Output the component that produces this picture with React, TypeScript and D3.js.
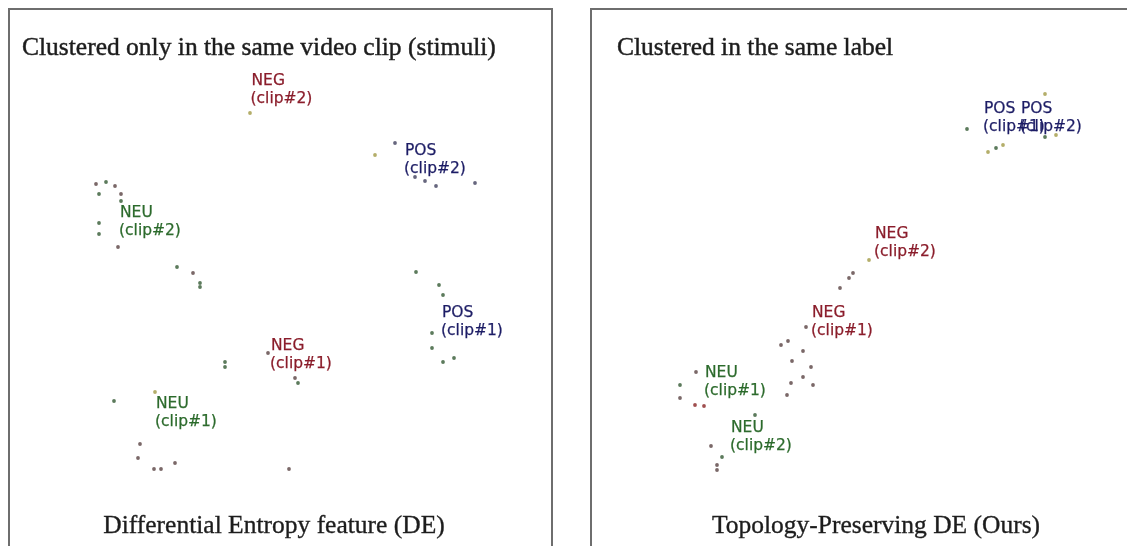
import * as d3 from "d3";
import React from "react";

type Tone = "neu" | "neg" | "pos" | "yel" | "red";
type Pt = [number, number, Tone];

// t-SNE style 2D embedding, left panel (raw DE features)
const dePoints: Pt[] = [
  [-6.1, 32.8, "yel"],
  [22.9, 26.8, "pos"], [18.9, 24.4, "yel"], [26.9, 20.0, "pos"], [28.9, 19.2, "pos"],
  [31.1, 18.2, "pos"], [38.9, 18.8, "pos"],
  [-36.9, 18.6, "neg"], [-34.9, 19.0, "neu"], [-33.1, 18.2, "neg"], [-36.3, 16.6, "neu"],
  [-31.9, 16.6, "neg"], [-31.9, 15.2, "neu"], [-36.3, 10.8, "neu"], [-36.3, 8.6, "neu"],
  [-32.5, 6.0, "neg"], [-20.7, 2.0, "neu"], [-17.5, 0.8, "neg"], [-16.1, -1.2, "neu"],
  [-16.1, -2.0, "neu"],
  [27.1, 1.0, "neu"], [31.7, -1.6, "neu"], [32.5, -3.6, "neu"], [30.3, -11.2, "neu"],
  [30.3, -14.2, "neu"], [32.5, -17.0, "neu"], [34.7, -16.2, "neu"],
  [-2.5, -15.2, "neg"], [-11.1, -17.0, "neu"], [-11.1, -18.0, "neu"], [2.9, -20.2, "neg"],
  [3.5, -21.2, "neu"], [1.7, -38.4, "neg"],
  [-25.1, -23.0, "yel"], [-33.3, -24.8, "neu"], [-28.1, -33.4, "neg"], [-28.5, -36.2, "neg"],
  [-25.3, -38.4, "neg"], [-23.9, -38.4, "neg"], [-21.1, -37.2, "neg"],
];

// right panel (topology-preserving DE)
const tpPoints: Pt[] = [
  [36.5, 36.6, "yel"], [20.9, 29.6, "neu"], [36.5, 28.0, "neu"], [38.7, 28.4, "yel"],
  [25.1, 25.0, "yel"], [26.7, 25.8, "neu"], [28.1, 26.4, "yel"],
  [1.3, 3.4, "yel"], [-1.9, 0.8, "neg"], [-2.7, -0.2, "neg"], [-4.5, -2.2, "neg"],
  [-11.3, -10.0, "neg"], [-16.3, -13.6, "neg"], [-14.9, -12.8, "neg"], [-11.9, -14.8, "neg"],
  [-14.1, -16.8, "neg"], [-10.3, -18.0, "neg"], [-11.9, -20.0, "neg"], [-9.9, -21.6, "neg"],
  [-14.3, -21.2, "neg"], [-15.1, -23.6, "neg"],
  [-33.3, -19.0, "neg"], [-36.5, -21.6, "neu"], [-36.5, -24.2, "neg"], [-33.5, -25.6, "red"],
  [-31.7, -25.8, "red"],
  [-21.5, -27.6, "neu"], [-30.3, -33.8, "neg"], [-28.1, -36.0, "neu"], [-29.1, -37.6, "neg"],
  [-29.1, -38.6, "neg"],
];

type Label = { emo: "NEG" | "POS" | "NEU"; clip: string; x: number; y: number };

const deLabels: Label[] = [
  { emo: "NEG", clip: "(clip#2)", x: -5.8, y: 38.4 },
  { emo: "POS", clip: "(clip#2)", x: 24.9, y: 24.4 },
  { emo: "NEU", clip: "(clip#2)", x: -32.1, y: 12.0 },
  { emo: "POS", clip: "(clip#1)", x: 32.3, y: -8.0 },
  { emo: "NEG", clip: "(clip#1)", x: -1.9, y: -14.6 },
  { emo: "NEU", clip: "(clip#1)", x: -24.9, y: -26.2 },
];

const tpLabels: Label[] = [
  { emo: "POS", clip: "(clip#1)", x: 24.3, y: 32.8 },
  { emo: "POS", clip: "(clip#2)", x: 31.7, y: 32.8 },
  { emo: "NEG", clip: "(clip#2)", x: 2.5, y: 7.8 },
  { emo: "NEG", clip: "(clip#1)", x: -10.1, y: -8.0 },
  { emo: "NEU", clip: "(clip#1)", x: -31.5, y: -20.0 },
  { emo: "NEU", clip: "(clip#2)", x: -26.3, y: -31.0 },
];

const labelColor: Record<string, string> = { NEG: "#8b1f2c", POS: "#1f1f66", NEU: "#2d6b2d" };
const dotColor: Record<Tone, string> = {
  neu: "#5c7a5c",
  neg: "#7a6868",
  pos: "#66667e",
  yel: "#b4ae6a",
  red: "#a05050",
};

const W = 1127;
const H = 546;
const serif = "'Liberation Serif', 'DejaVu Serif', serif";
const sans = "'DejaVu Sans', Verdana, sans-serif";

function Panel({
  left,
  points,
  labels,
  title,
  titleX,
  caption,
  captionX,
}: {
  left: number;
  points: Pt[];
  labels: Label[];
  title: string;
  titleX: number;
  caption: string;
  captionX: number;
}) {
  const x = d3.scaleLinear().domain([-54.5, 54.5]).range([left, left + 545]);
  const y = d3.scaleLinear().domain([53.8, -53.8]).range([8, 546]);
  return (
    <g>
      <rect x={left + 1} y={9} width={543} height={560} fill="#fff" stroke="#6e6e6e" strokeWidth={2} />
      <g filter="url(#soft)">
        <text x={titleX} y={55} fontFamily={serif} fontSize={25.5} fill="#1e1e1e" stroke="#1e1e1e" strokeWidth={0.45}>
          {title}
        </text>
        {points.map((p, i) => (
          <circle key={i} cx={x(p[0])} cy={y(p[1])} r={1.9} fill={dotColor[p[2]]} />
        ))}
        {labels.map((l, i) => (
          <text
            key={i}
            x={x(l.x)}
            y={y(l.y)}
            fontFamily={sans}
            fontSize={15.5}
            fill={labelColor[l.emo]}
            stroke={labelColor[l.emo]}
            strokeWidth={0.25}
          >
            <tspan x={x(l.x)}>{l.emo}</tspan>
            <tspan x={x(l.x) - 1} dy={18}>
              {l.clip}
            </tspan>
          </text>
        ))}
        <text
          x={captionX}
          y={533}
          textAnchor="middle"
          fontFamily={serif}
          fontSize={25.5}
          fill="#1e1e1e"
          stroke="#1e1e1e"
          strokeWidth={0.35}
        >
          {caption}
        </text>
      </g>
    </g>
  );
}

export default function App() {
  return (
    <svg
      width={W}
      height={H}
      style={{ position: "absolute", left: 0, top: 0, display: "block", background: "#fff" }}
    >
      <defs>
        <filter id="soft" x="-5%" y="-5%" width="110%" height="110%">
          <feGaussianBlur stdDeviation={0.45} />
        </filter>
      </defs>
      <rect width={W} height={H} fill="#fff" />
      <Panel
        left={8}
        points={dePoints}
        labels={deLabels}
        title="Clustered only in the same video clip (stimuli)"
        titleX={22}
        caption="Differential Entropy feature (DE)"
        captionX={274}
      />
      <Panel
        left={590}
        points={tpPoints}
        labels={tpLabels}
        title="Clustered in the same label"
        titleX={617}
        caption="Topology-Preserving DE (Ours)"
        captionX={876}
      />
    </svg>
  );
}
